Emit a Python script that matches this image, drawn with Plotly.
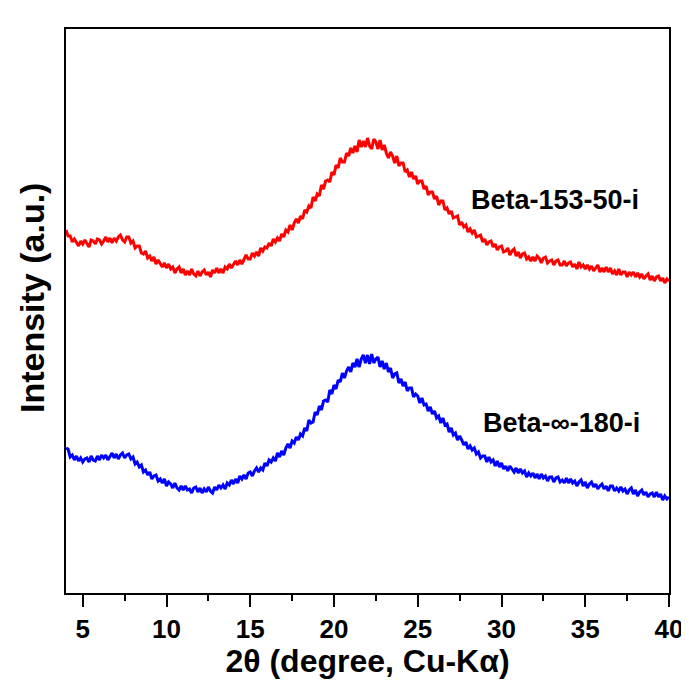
import plotly.graph_objects as go

# 2-theta grid (degrees), 0.125 deg steps from 4 to 40
two_theta = [round(4.0 + 0.125 * i, 3) for i in range(289)]

# Intensities (a.u.)
beta_153_50_i = [
    363, 357, 357, 351, 354, 350, 347, 352,
    349, 353, 349, 346, 353, 352, 349, 354,
    353, 349, 352, 356, 351, 355, 350, 355,
    352, 356, 358, 353, 351, 356, 356, 350,
    352, 345, 347, 347, 340, 339, 342, 335,
    337, 332, 336, 329, 333, 329, 326, 330,
    325, 329, 324, 326, 320, 324, 326, 320,
    324, 318, 322, 318, 324, 319, 317, 322,
    317, 321, 323, 318, 321, 316, 323, 320,
    325, 320, 324, 320, 326, 324, 329, 325,
    329, 332, 328, 333, 329, 334, 338, 334,
    334, 340, 337, 341, 337, 345, 342, 346,
    345, 350, 347, 354, 351, 355, 352, 359,
    356, 363, 361, 368, 363, 370, 374, 370,
    377, 374, 383, 381, 387, 385, 396, 392,
    399, 397, 408, 404, 412, 413, 411, 421,
    418, 428, 425, 435, 431, 431, 440, 437,
    445, 440, 447, 441, 453, 446, 452, 446,
    455, 447, 444, 454, 451, 444, 453, 443,
    448, 440, 435, 441, 437, 430, 437, 427,
    430, 430, 421, 423, 416, 421, 414, 417,
    409, 412, 412, 404, 407, 398, 401, 401,
    394, 397, 388, 392, 392, 383, 385, 379,
    382, 375, 376, 377, 368, 371, 366, 368,
    361, 364, 360, 363, 356, 357, 358, 351,
    354, 348, 351, 352, 346, 349, 343, 346,
    347, 341, 342, 345, 338, 342, 344, 337,
    341, 335, 339, 340, 334, 336, 332, 336,
    332, 337, 335, 330, 335, 336, 330, 332,
    333, 328, 332, 333, 328, 328, 332, 327,
    330, 331, 326, 329, 324, 331, 326, 328,
    324, 328, 324, 327, 322, 325, 328, 321,
    325, 321, 326, 321, 325, 319, 322, 318,
    324, 318, 321, 321, 316, 321, 318, 321,
    316, 320, 316, 319, 314, 317, 319, 313,
    317, 312, 316, 317, 312, 315, 310, 314,
    312,
]

beta_inf_180_i = [
    145, 144, 136, 138, 133, 137, 132, 135,
    131, 134, 135, 131, 137, 133, 132, 137,
    133, 138, 135, 138, 133, 137, 140, 135,
    139, 134, 138, 140, 135, 138, 139, 134,
    136, 129, 131, 126, 128, 121, 123, 118,
    121, 114, 117, 118, 112, 114, 110, 114,
    107, 111, 109, 105, 110, 105, 103, 107,
    103, 107, 103, 104, 100, 105, 106, 101,
    105, 100, 104, 101, 106, 102, 100, 106,
    103, 108, 105, 108, 104, 110, 108, 113,
    109, 114, 110, 117, 114, 118, 114, 120,
    121, 117, 122, 125, 121, 125, 123, 130,
    127, 133, 131, 135, 132, 140, 136, 142,
    138, 145, 149, 145, 152, 150, 156, 153,
    159, 157, 165, 162, 173, 170, 171, 181,
    178, 187, 183, 192, 193, 191, 203, 199,
    208, 204, 213, 211, 220, 215, 222, 226,
    221, 230, 226, 234, 226, 234, 238, 230,
    238, 229, 239, 230, 234, 236, 226, 232,
    224, 230, 221, 225, 215, 219, 220, 210,
    214, 207, 211, 202, 205, 205, 196, 199,
    197, 190, 195, 188, 189, 182, 186, 179,
    182, 175, 177, 170, 175, 168, 169, 161,
    165, 158, 160, 153, 157, 153, 148, 151,
    144, 147, 143, 145, 139, 141, 135, 137,
    137, 131, 136, 131, 133, 127, 132, 126,
    130, 124, 127, 122, 127, 124, 121, 125,
    120, 124, 120, 122, 116, 120, 117, 120,
    115, 119, 114, 119, 115, 117, 112, 116,
    116, 111, 115, 116, 111, 113, 110, 115,
    110, 114, 110, 112, 107, 111, 113, 107,
    111, 105, 109, 111, 106, 109, 104, 107,
    109, 104, 107, 102, 107, 107, 102, 105,
    102, 106, 102, 104, 99, 103, 105, 99,
    103, 97, 101, 103, 98, 101, 96, 99,
    100, 96, 101, 96, 99, 93, 97, 94,
    96,
]

series_names = ["Beta-153-50-i", "Beta-\u221e-180-i"]
series_colors = ["#ff0000", "#0000ff"]
label_pos = [(33.2, 393), (33.6, 170)]

x_ticks = [5, 10, 15, 20, 25, 30, 35, 40]
x_title = "2\u03b8 (degree, Cu-K\u03b1)"
y_title = "Intensity (a.u.)"

FONT = "Arial, Liberation Sans, Helvetica, sans-serif"

fig = go.Figure()
for name, ys, col in zip(series_names, [beta_153_50_i, beta_inf_180_i], series_colors):
    fig.add_trace(go.Scatter(x=two_theta, y=ys, mode="lines", name=name,
                             line=dict(color=col, width=3)))

for name, (lx, ly) in zip(series_names, label_pos):
    fig.add_annotation(x=lx, y=ly, text="<b>%s</b>" % name, showarrow=False,
                       font=dict(family=FONT, size=27, color="black"),
                       xanchor="center", yanchor="middle")

# y-axis title as rotated annotation (placed to match the reference)
fig.add_annotation(x=0, y=0.523, xref="paper", yref="paper", xshift=-34,
                   text="<b>%s</b>" % y_title, textangle=-90, showarrow=False,
                   font=dict(family=FONT, size=34, color="black"),
                   xanchor="center", yanchor="middle")

fig.update_layout(
    width=681, height=671,
    margin=dict(l=58, r=20, t=21, b=86),
    paper_bgcolor="white", plot_bgcolor="white",
    showlegend=False,
    font=dict(family=FONT, color="black"),
)
fig.update_xaxes(
    range=[4, 40], tickvals=x_ticks, ticktext=["<b>%d</b>" % t for t in x_ticks],
    tickfont=dict(family=FONT, size=26, color="black"),
    ticklabeloverflow="allow",
    ticks="outside", ticklen=12, tickwidth=2, tickcolor="black",
    minor=dict(ticks="outside", ticklen=6, tickwidth=2, tickcolor="black", dtick=2.5, tick0=2.5),
    showline=True, linewidth=2, linecolor="black", mirror=True,
    showgrid=False, zeroline=False, automargin=False,
    title=dict(text="<b>%s</b>" % x_title, font=dict(family=FONT, size=32, color="black"), standoff=6),
)
fig.update_yaxes(
    range=[0, 564], showticklabels=False, ticks="",
    showline=True, linewidth=2, linecolor="black", mirror=True,
    showgrid=False, zeroline=False, automargin=False,
)

fig.write_html("out.html")
